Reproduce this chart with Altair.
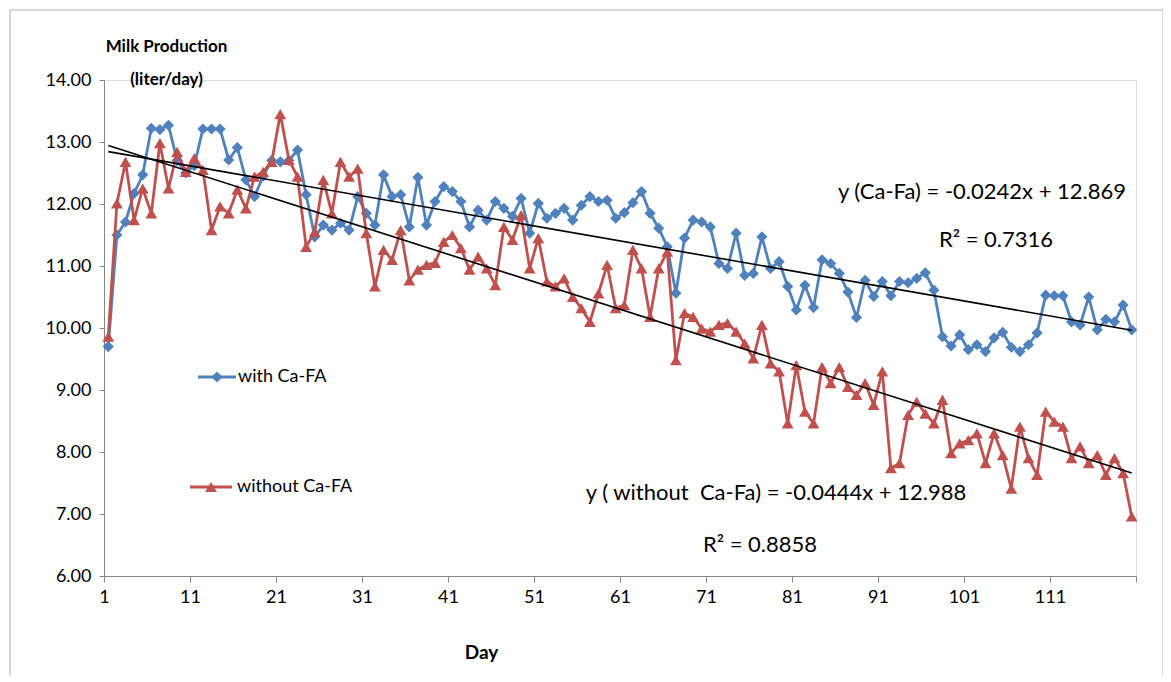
import altair as alt
import pandas as pd

# ---------------- data ----------------
DAYS = list(range(1, 121))

WITH_CAFA = [
    9.70, 11.50, 11.71, 12.17, 12.47, 13.22, 13.20, 13.27, 12.70, 12.50,
    12.62, 13.21, 13.21, 13.21, 12.71, 12.91, 12.39, 12.12, 12.45, 12.70,
    12.68, 12.70, 12.87, 12.15, 11.47, 11.66, 11.58, 11.69, 11.58, 12.12,
    11.85, 11.66, 12.47, 12.12, 12.15, 11.63, 12.43, 11.66, 12.04, 12.28,
    12.20, 12.04, 11.63, 11.90, 11.74, 12.04, 11.93, 11.80, 12.09, 11.53,
    12.01, 11.77, 11.85, 11.93, 11.74, 11.98, 12.12, 12.04, 12.06, 11.77,
    11.86, 12.02, 12.20, 11.85, 11.61, 11.31, 10.56, 11.45, 11.74, 11.71,
    11.63, 11.04, 10.96, 11.53, 10.85, 10.88, 11.47, 10.96, 11.07, 10.67,
    10.29, 10.69, 10.33, 11.10, 11.04, 10.88, 10.58, 10.17, 10.77, 10.51,
    10.75, 10.52, 10.75, 10.73, 10.80, 10.89, 10.61, 9.86, 9.71, 9.89,
    9.65, 9.73, 9.62, 9.84, 9.93, 9.69, 9.62, 9.73, 9.92, 10.53,
    10.52, 10.52, 10.10, 10.05, 10.50, 9.97, 10.14, 10.10, 10.37, 9.97,
]

WITHOUT_CAFA = [
    9.86, 12.01, 12.68, 11.74, 12.25, 11.85, 12.98, 12.25, 12.84, 12.52,
    12.74, 12.55, 11.58, 11.96, 11.85, 12.23, 11.93, 12.44, 12.52, 12.68,
    13.45, 12.71, 12.44, 11.31, 11.55, 12.39, 11.85, 12.68, 12.44, 12.57,
    11.53, 10.67, 11.26, 11.10, 11.58, 10.77, 10.94, 11.02, 11.05, 11.39,
    11.50, 11.29, 10.94, 11.15, 10.96, 10.69, 11.63, 11.42, 11.82, 10.96,
    11.45, 10.75, 10.67, 10.80, 10.50, 10.32, 10.10, 10.56, 11.02, 10.32,
    10.37, 11.26, 10.96, 10.18, 10.96, 11.23, 9.48, 10.24, 10.18, 9.99,
    9.94, 10.05, 10.08, 9.94, 9.75, 9.51, 10.05, 9.43, 9.30, 8.46,
    9.40, 8.65, 8.46, 9.37, 9.11, 9.37, 9.05, 8.92, 9.11, 8.76,
    9.30, 7.74, 7.82, 8.60, 8.81, 8.62, 8.46, 8.84, 7.98, 8.14,
    8.19, 8.30, 7.82, 8.30, 7.95, 7.41, 8.41, 7.90, 7.63, 8.65,
    8.49, 8.41, 7.90, 8.09, 7.82, 7.95, 7.63, 7.90, 7.66, 6.96,
]

SERIES = ["with Ca-FA", "without Ca-FA"]
COLORS = ["#4F81BD", "#C0504D"]

TREND_SLOPE = [-0.0242, -0.0444]
TREND_INTERCEPT = [12.869, 12.988]
EQUATIONS = ["y (Ca-Fa) = -0.0242x + 12.869",
             "y ( without\u00a0 Ca-Fa) = -0.0444x + 12.988"]
R2_TEXT = ["R\u00b2 = 0.7316", "R\u00b2 = 0.8858"]

Y_TICKS = [6, 7, 8, 9, 10, 11, 12, 13, 14]
X_TICK_LABELS = [1, 11, 21, 31, 41, 51, 61, 71, 81, 91, 101, 111]
Y_TITLE = ["Milk Production", "(liter/day)"]
X_TITLE = "Day"

# ---------------- tables ----------------
df = pd.DataFrame({
    "day": DAYS + DAYS,
    "value": WITH_CAFA + WITHOUT_CAFA,
    "series": [SERIES[0]] * len(DAYS) + [SERIES[1]] * len(DAYS),
})

trend_df = pd.DataFrame({
    "series": [SERIES[0], SERIES[0], SERIES[1], SERIES[1]],
    "day": [DAYS[0], DAYS[-1], DAYS[0], DAYS[-1]],
    "slope": [TREND_SLOPE[0]] * 2 + [TREND_SLOPE[1]] * 2,
    "intercept": [TREND_INTERCEPT[0]] * 2 + [TREND_INTERCEPT[1]] * 2,
})

W, H = 1032, 496
FONT = "Lato"

x_ticks = [d - 0.5 for d in X_TICK_LABELS] + [DAYS[-1] + 0.5]
x_scale = alt.Scale(domain=[DAYS[0] - 0.5, DAYS[-1] + 0.5], nice=False, zero=False)
y_scale = alt.Scale(domain=[Y_TICKS[0], Y_TICKS[-1]], nice=False, zero=False)
color_scale = alt.Scale(domain=SERIES, range=COLORS)

x_axis = alt.Axis(
    values=x_ticks,
    labelExpr=f"datum.value < {DAYS[-1]} ? format(datum.value + 0.5, 'd') : ''",
    grid=False, domainColor="#868686", tickColor="#868686", tickSize=6,
    labelFont=FONT, labelFontSize=18, labelColor="black", labelPadding=6,
    labelFlush=False,
    title=X_TITLE, titleFont=FONT, titleFontSize=19, titleFontWeight="bold",
    titleColor="black", titleX=377, titleY=76, titleAlign="center",
    titleBaseline="middle",
)
y_axis = alt.Axis(
    values=Y_TICKS, format=".2f", grid=False,
    domainColor="#868686", tickColor="#868686", tickSize=5,
    labelFont=FONT, labelFontSize=18, labelColor="black", labelPadding=8,
    title=Y_TITLE, titleAngle=0, titleAlign="center", titleBaseline="top",
    titleX=62, titleY=-42, titleLineHeight=33, titleFont=FONT,
    titleFontSize=17, titleFontWeight="bold", titleColor="black",
)

X = alt.X("day:Q", scale=x_scale, axis=x_axis)
Y = alt.Y("value:Q", scale=y_scale, axis=y_axis)
C = alt.Color("series:N", scale=color_scale, legend=None)

base = alt.Chart(df).encode(x=X, y=Y, color=C)

layers = []

# outer frame
frame = alt.Chart(pd.DataFrame({"f": [0]})).mark_rect(
    fill="transparent", stroke="#b0b0b0", strokeWidth=1
).encode(x=alt.value(-94), x2=alt.value(1059), y=alt.value(-70), y2=alt.value(598))
layers.append(frame)

SHAPES = ["diamond", "triangle-up"]
SIZES = [125, 140]
for s, shp, sz in zip(SERIES, SHAPES, SIZES):
    sub = base.transform_filter(alt.datum.series == s)
    layers.append(sub.mark_line(strokeWidth=2.8))
    layers.append(sub.mark_point(shape=shp, filled=True, size=sz, opacity=1))

trend = alt.Chart(trend_df).transform_calculate(
    value="datum.intercept + datum.slope * datum.day"
).mark_line(color="black", strokeWidth=1.6).encode(
    x=X, y=Y, detail="series:N"
)
layers.append(trend)

# hand-made legend (line + marker sample, then label)
legend_df = pd.DataFrame({"series": SERIES})
LEG_POS = [  # (line x1, line x2, marker x, text x, y) in plot pixels
    (94, 132, 113, 134, 297),
    (86, 128, 107, 133, 407),
]
for i, (lx1, lx2, mx, tx, ly) in enumerate(LEG_POS):
    row = alt.Chart(legend_df.iloc[[i]])
    layers.append(row.mark_rule(color=COLORS[i], strokeWidth=2.8).encode(
        x=alt.value(lx1), x2=alt.value(lx2), y=alt.value(ly)))
    layers.append(row.mark_point(shape=SHAPES[i], filled=True, size=SIZES[i],
                                 color=COLORS[i], opacity=1).encode(
        x=alt.value(mx), y=alt.value(ly)))
    layers.append(row.mark_text(align="left", baseline="middle", font=FONT,
                                fontSize=18, color="black").encode(
        text="series:N", x=alt.value(tx), y=alt.value(ly)))

# annotations (equation and R² texts), centred
ann_df = pd.DataFrame({"txt": [EQUATIONS[0], R2_TEXT[0], EQUATIONS[1], R2_TEXT[1]]})
ann_pos = [(878, 112), (892, 160), (672, 413), (656, 465)]
for i, (px, py) in enumerate(ann_pos):
    layers.append(
        alt.Chart(ann_df.iloc[[i]]).mark_text(
            align="center", baseline="middle", font=FONT, fontSize=22, color="black"
        ).encode(text="txt:N", x=alt.value(px), y=alt.value(py))
    )

chart = alt.layer(*layers).properties(
    width=W, height=H,
    autosize=alt.AutoSizeParams(type="none"),
    padding={"left": 96, "top": 72, "right": 27, "bottom": 100},
).configure_view(stroke=None).configure(background="white")

chart.save("out.html", embed_options={"renderer": "svg", "actions": False})
